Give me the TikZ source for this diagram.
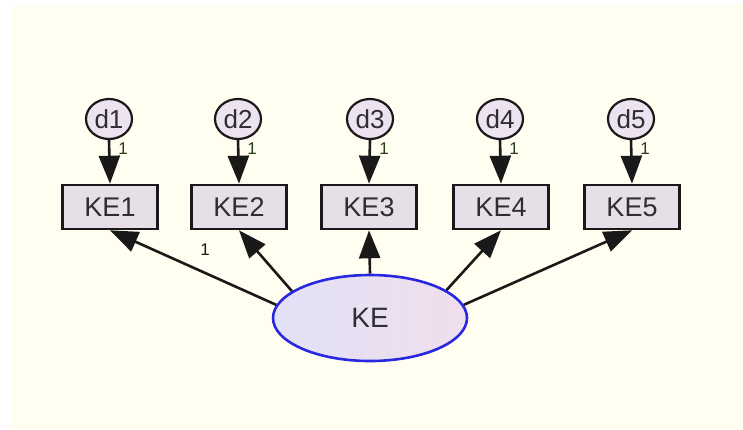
\documentclass[tikz,border=0pt]{standalone}
\usepackage{fontspec}
\setmainfont{Liberation Sans}
\usetikzlibrary{arrows.meta,shapes.geometric}
\definecolor{bgcream}{RGB}{255,254,240}
\definecolor{boxfill}{RGB}{231,223,232}
\definecolor{errfill}{RGB}{237,226,240}
\definecolor{latleft}{RGB}{226,225,246}
\definecolor{latright}{RGB}{240,222,236}
\definecolor{latline}{RGB}{40,40,225}
\definecolor{ink}{RGB}{25,25,25}
\definecolor{txt}{RGB}{45,45,50}
\definecolor{wtink}{RGB}{40,60,25}
\begin{document}
\begin{tikzpicture}[x=1pt,y=-1pt,
  obs/.style={rectangle, draw=ink, line width=2.6pt, fill=boxfill,
    minimum width=95pt, minimum height=44pt, inner sep=0pt, text=txt,
    font=\fontsize{27}{30}\selectfont},
  err/.style={ellipse, draw=ink, line width=2.2pt, fill=errfill,
    minimum width=46pt, minimum height=40pt, inner sep=0pt, text=txt,
    font=\fontsize{26}{28}\selectfont},
  lat/.style={ellipse, draw=latline, line width=2.6pt,
    left color=latleft, right color=latright,
    minimum width=194pt, minimum height=86pt, inner sep=0pt, text=txt,
    font=\fontsize{28}{30}\selectfont},
  regpath/.style={draw=ink, line width=2.6pt,
    -{Triangle[length=28pt,width=21pt]}},
  wt/.style={font=\fontsize{17}{17}\selectfont, text=wtink, inner sep=0pt}
]
  \useasboundingbox (0,0) rectangle (743,429);
  \fill[bgcream] (11,5) rectangle (743,429);

  % error terms
  \node[err] (d1) at (109,119) {d1};
  \node[err] (d2) at (238,119) {d2};
  \node[err] (d3) at (370,119) {d3};
  \node[err] (d4) at (500,119) {d4};
  \node[err] (d5) at (631,119) {d5};

  % observed indicators
  \node[obs] (KE1) at (110,207) {KE1};
  \node[obs] (KE2) at (239,207) {KE2};
  \node[obs] (KE3) at (369,207) {KE3};
  \node[obs] (KE4) at (501,207) {KE4};
  \node[obs] (KE5) at (632,207) {KE5};

  % latent factor
  \node[lat] (KE) at (370,318) {KE};

  % error paths, fixed to 1
  \foreach \i in {1,...,5}{
    \draw[regpath] (d\i.south) -- (KE\i.north);
  }
  \node[wt] at (123,149) {1};
  \node[wt] at (252,149) {1};
  \node[wt] at (384,149) {1};
  \node[wt] at (514,149) {1};
  \node[wt] at (645,149) {1};

  % loadings
  \draw[regpath] (KE.172) -- (KE1.south);
  \draw[regpath] (KE.161) -- (KE2.south);
  \draw[regpath] (KE.north) -- (KE3.south);
  \draw[regpath] (KE.20) -- (KE4.south);
  \draw[regpath] (KE.8) -- (KE5.south);
  \node[wt, text=ink] at (205,250) {1};
\end{tikzpicture}
\end{document}
